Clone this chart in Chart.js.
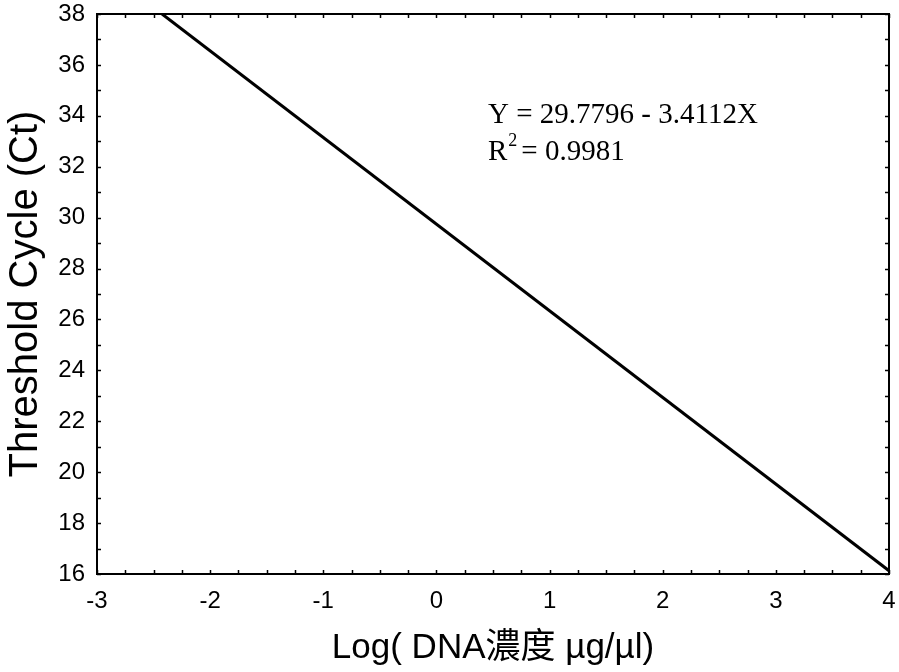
<!DOCTYPE html>
<html>
<head>
<meta charset="utf-8">
<script src="https://cdn.jsdelivr.net/npm/chart.js@4.4.1/dist/chart.umd.min.js"></script>
<style>
  html, body { margin: 0; padding: 0; background: #fff; }
  #wrap { width: 899px; height: 672px; }
</style>
</head>
<body>
<div id="wrap"><canvas id="ctChart"></canvas></div>
<script>
// Standard curve: Ct vs log(DNA concentration)
const xTicks = [-3, -2, -1, 0, 1, 2, 3, 4];
const yTicks = [16, 18, 20, 22, 24, 26, 28, 30, 32, 34, 36, 38];
const fitLogConc = [-2.425, 4];      // ends of the fitted line
const fitCt = [38.0, 16.13];
const equationText = "Y = 29.7796 - 3.4112X";
const r2Text = "= 0.9981";

const SANS = "'Liberation Sans', Arial, 'Noto Sans CJK TC', sans-serif";
const SERIF = "'Liberation Serif', 'Times New Roman', serif";

// frame + inward ticks on all four sides, plus the regression text
const framePlugin = {
  id: "frame",
  afterDatasetsDraw(chart) {
    const { ctx, chartArea: a, scales } = chart;
    ctx.save();
    ctx.strokeStyle = "#000";
    ctx.lineWidth = 2;
    ctx.strokeRect(a.left, a.top, a.right - a.left, a.bottom - a.top);

    ctx.lineWidth = 1.5;
    ctx.beginPath();
    for (let v = xTicks[0]; v <= xTicks[xTicks.length - 1] + 1e-9; v += 0.25) {
      const px = Math.round(scales.x.getPixelForValue(v)) + 0.5;
      ctx.moveTo(px, a.bottom); ctx.lineTo(px, a.bottom - 4);
      ctx.moveTo(px, a.top); ctx.lineTo(px, a.top + 4);
    }
    for (let v = yTicks[0]; v <= yTicks[yTicks.length - 1]; v += 1) {
      const py = Math.round(scales.y.getPixelForValue(v)) + 0.5;
      ctx.moveTo(a.left, py); ctx.lineTo(a.left + 4, py);
      ctx.moveTo(a.right, py); ctx.lineTo(a.right - 4, py);
    }
    ctx.stroke();

    // regression equation
    ctx.fillStyle = "#000";
    ctx.textBaseline = "alphabetic";
    ctx.textAlign = "left";
    ctx.font = "29px " + SERIF;
    const tx = a.left + 391;
    ctx.fillText(equationText, tx, 123);
    ctx.fillText("R", tx, 160);
    const rw = ctx.measureText("R").width;
    ctx.font = "18px " + SERIF;
    ctx.fillText("2", tx + rw + 1, 146);
    const sw = ctx.measureText("2").width;
    ctx.font = "29px " + SERIF;
    ctx.fillText(r2Text, tx + rw + sw + 5, 160);
    ctx.restore();
  }
};

const ctx = document.getElementById("ctChart").getContext("2d");
new Chart(ctx, {
  type: "scatter",
  data: {
    datasets: [{
      data: fitLogConc.map((x, i) => ({ x: x, y: fitCt[i] })),
      showLine: true,
      borderColor: "#000",
      borderWidth: 3,
      pointRadius: 0,
      fill: false
    }]
  },
  options: {
    responsive: true,
    maintainAspectRatio: false,
    animation: false,
    layout: { autoPadding: false, padding: { top: 14, right: 10, left: 0, bottom: 0 } },
    plugins: { legend: { display: false }, tooltip: { enabled: false } },
    scales: {
      x: {
        type: "linear",
        min: -3,
        max: 4,
        afterBuildTicks(scale) { scale.ticks = xTicks.map(v => ({ value: v })); },
        afterFit(scale) {
          scale.height = 98;
          scale.paddingLeft = 0;
          scale.paddingRight = 0;
        },
        grid: { display: false, drawTicks: false },
        border: { display: false },
        ticks: { color: "#000", font: { size: 24, family: SANS }, padding: 13 },
        title: {
          display: true,
          text: "Log( DNA濃度 µg/µl)",
          color: "#000",
          font: { size: 35, family: SANS },
          padding: { top: 0, bottom: 3 }
        }
      },
      y: {
        type: "linear",
        min: 16,
        max: 38,
        afterBuildTicks(scale) { scale.ticks = yTicks.map(v => ({ value: v })); },
        afterFit(scale) {
          scale.width = 97;
          scale.paddingTop = 0;
          scale.paddingBottom = 0;
        },
        grid: { display: false, drawTicks: false },
        border: { display: false },
        ticks: { color: "#000", font: { size: 24, family: SANS }, padding: 12 },
        title: {
          display: true,
          text: "Threshold Cycle (Ct)",
          color: "#000",
          font: { size: 40, family: SANS },
          padding: { top: 2, bottom: 0 }
        }
      }
    }
  },
  plugins: [framePlugin]
});
</script>
</body>
</html>
